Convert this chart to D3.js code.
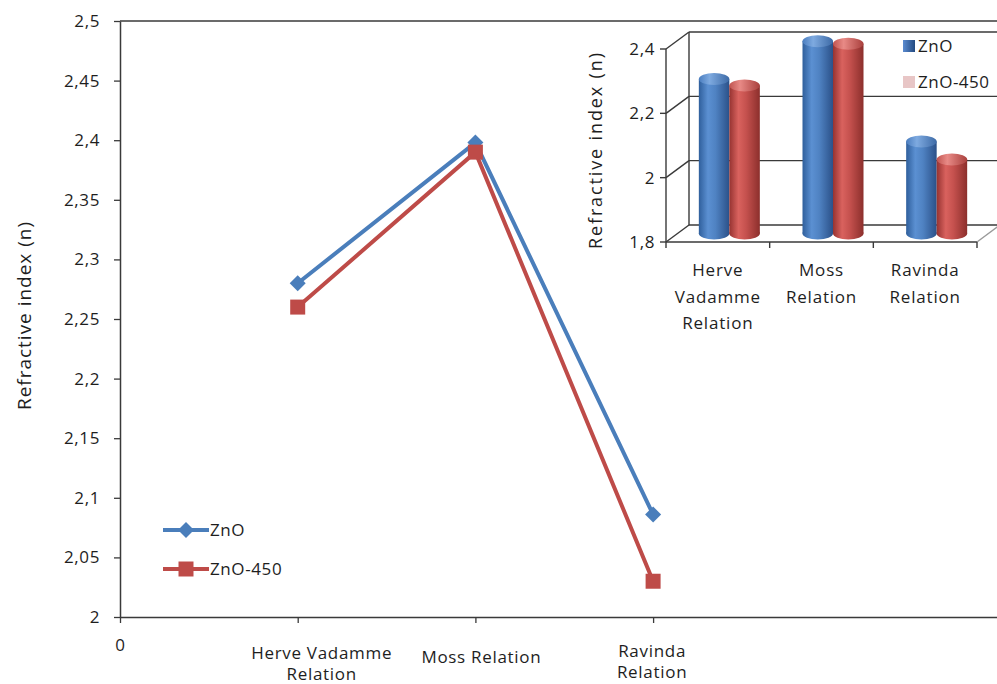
<!DOCTYPE html>
<html>
<head>
<meta charset="utf-8">
<script src="https://cdn.jsdelivr.net/npm/d3@7"></script>
<style>
  html, body { margin: 0; padding: 0; background: #fff; }
  svg { display: block; }
  text { font-family: "Open Sans", "Noto Sans", sans-serif; fill: #1e1e1e; }
</style>
</head>
<body>
<svg id="chart" width="997" height="684"></svg>
<script>
// ---------------- DATA ----------------
const categories = ["Herve Vadamme Relation", "Moss Relation", "Ravinda Relation"];
const xPositions = [1, 2, 3];
const mainLabelLines = [["Herve Vadamme", "Relation"], ["Moss Relation"], ["Ravinda", "Relation"]];
const insetLabelLines = [["Herve", "Vadamme", "Relation"], ["Moss", "Relation"], ["Ravinda", "Relation"]];
const seriesNames = ["ZnO", "ZnO-450"];
const znoValues = [2.28, 2.398, 2.086];
const zno450Values = [2.26, 2.39, 2.03];
const yTicks = [2, 2.05, 2.1, 2.15, 2.2, 2.25, 2.3, 2.35, 2.4, 2.45, 2.5];
const xTicks = [0, 1, 2, 3];
const insetTicks = [1.8, 2.0, 2.2, 2.4];
const yTitle = "Refractive index (n)";

// ---------------- SETUP ----------------
const svg = d3.select("#chart");
const W = 997, H = 684;
const BLUE = "#4a7ebb", RED = "#be4b48", AXIS = "#3a3a3a";
const locale = d3.formatLocale({decimal: ",", thousands: ".", grouping: [3], currency: ["", ""]});
const fmt2 = locale.format(".2~f");
const fmt1 = locale.format(".1~f");

svg.append("rect").attr("width", W).attr("height", H).attr("fill", "#fff");

const series = [
  {name: seriesNames[0], values: znoValues, color: BLUE, marker: "diamond"},
  {name: seriesNames[1], values: zno450Values, color: RED, marker: "square"}
];

// ---------------- MAIN CHART ----------------
const plot = {left: 120, top: 21, bottom: 617};
const y = d3.scaleLinear().domain([2, 2.5]).range([plot.bottom, plot.top]);
const x = d3.scaleLinear().domain([0, 5]).range([plot.left, plot.left + 5 * 177.7]);

// top border
svg.append("line").attr("x1", plot.left).attr("x2", W).attr("y1", plot.top).attr("y2", plot.top)
  .attr("stroke", AXIS).attr("stroke-width", 1.5);

// y axis
const yAxis = svg.append("g").attr("transform", `translate(${plot.left},0)`)
  .call(d3.axisLeft(y).tickValues(yTicks).tickSize(6).tickSizeOuter(0).tickPadding(14).tickFormat(fmt2));
yAxis.select(".domain").attr("stroke", AXIS).attr("stroke-width", 1.5);
yAxis.selectAll(".tick line").attr("stroke", AXIS).attr("stroke-width", 1.3);
yAxis.selectAll(".tick text").style("font-size", "17px").style("letter-spacing", "0.6px")
  .attr("fill", "#1e1e1e").style("font-family", '"Open Sans", sans-serif');

// x axis
const xAxis = svg.append("g").attr("transform", `translate(0,${plot.bottom})`)
  .call(d3.axisBottom(x).tickValues(xTicks).tickSize(6).tickSizeOuter(0).tickFormat(""));
xAxis.select(".domain").attr("stroke", AXIS).attr("stroke-width", 1.5);
xAxis.selectAll(".tick line").attr("stroke", AXIS).attr("stroke-width", 1.3);

svg.append("text").attr("x", x(0)).attr("y", 651).attr("text-anchor", "middle")
  .style("font-size", "17px").text(fmt2(xTicks[0]));

// category labels
const labelOffsetX = [24, 6, -1];
const labelBaseY = [659, 663, 657];
mainLabelLines.forEach((lines, i) => {
  const t = svg.append("text").attr("text-anchor", "middle")
    .style("font-size", "17px").style("letter-spacing", "0.7px");
  lines.forEach((ln, j) => {
    t.append("tspan").attr("x", x(xPositions[i]) + labelOffsetX[i])
      .attr("y", labelBaseY[i] + j * 21).text(ln);
  });
});

// y title
svg.append("text").attr("transform", "translate(31,316) rotate(-90)")
  .attr("text-anchor", "middle").style("font-size", "19px")
  .attr("textLength", 188).attr("lengthAdjust", "spacing").text(yTitle);

// lines + markers
const line = d3.line().x((d, i) => x(xPositions[i])).y(d => y(d));
const diamond = d3.symbol().type(d3.symbolSquare).size(128);
const square = d3.symbol().type(d3.symbolSquare).size(225);

series.forEach(s => {
  svg.append("path").datum(s.values).attr("d", line).attr("fill", "none")
    .attr("stroke", s.color).attr("stroke-width", 4).attr("stroke-linejoin", "round");
  svg.selectAll(null).data(s.values).enter().append("path")
    .attr("d", s.marker === "diamond" ? diamond : square)
    .attr("transform", (d, i) => `translate(${x(xPositions[i])},${y(d)})` + (s.marker === "diamond" ? " rotate(45)" : ""))
    .attr("fill", s.color);
});

// legend
const legendY = [530, 569];
series.forEach((s, i) => {
  const g = svg.append("g");
  g.append("line").attr("x1", 163).attr("x2", 209).attr("y1", legendY[i]).attr("y2", legendY[i])
    .attr("stroke", s.color).attr("stroke-width", 4);
  g.append("path").attr("d", s.marker === "diamond" ? diamond : square)
    .attr("transform", `translate(186,${legendY[i]})` + (s.marker === "diamond" ? " rotate(45)" : ""))
    .attr("fill", s.color);
  g.append("text").attr("x", 210).attr("y", legendY[i] + 6).style("font-size", "17px")
    .style("letter-spacing", "0.6px").text(s.name);
});

// ---------------- INSET 3D BAR CHART ----------------
const defs = svg.append("defs");
function grad(id, stops) {
  const g = defs.append("linearGradient").attr("id", id).attr("x1", "0").attr("x2", "1").attr("y1", "0").attr("y2", "0");
  stops.forEach(([o, c]) => g.append("stop").attr("offset", o).attr("stop-color", c));
}
grad("gBlue", [["0", "#2f5f9c"], ["0.3", "#5b90d2"], ["0.55", "#4f82c2"], ["1", "#2b5189"]]);
grad("gRed", [["0", "#963331"], ["0.3", "#d9625e"], ["0.55", "#c5514e"], ["1", "#8c2f2c"]]);
grad("gBlueTop", [["0", "#4a7dbf"], ["0.35", "#7eaae0"], ["1", "#3d6aa6"]]);
grad("gRedTop", [["0", "#c05450"], ["0.35", "#e88a86"], ["1", "#a9403d"]]);
grad("gLegBlue", [["0", "#5b8bd0"], ["1", "#234a80"]]);

const ins = {x0: 666, x1: 977, dx: 23, dy: -17};
const yi = d3.scaleLinear().domain([1.8, 2.4]).range([242, 49]);
const xi = d3.scaleBand().domain(categories).range([ins.x0, ins.x1]);
const ig = svg.append("g");
const ax = (sel) => sel.attr("stroke", AXIS).attr("stroke-width", 1.4);

// back wall gridlines & side lines
insetTicks.forEach(v => {
  ax(ig.append("line").attr("x1", ins.x0 + ins.dx).attr("x2", W + 5)
    .attr("y1", yi(v) + ins.dy).attr("y2", yi(v) + ins.dy));
  ax(ig.append("line").attr("x1", ins.x0).attr("x2", ins.x0 + ins.dx)
    .attr("y1", yi(v)).attr("y2", yi(v) + ins.dy));
  ax(ig.append("line").attr("x1", ins.x0 - 6).attr("x2", ins.x0).attr("y1", yi(v)).attr("y2", yi(v)));
  ig.append("text").attr("x", 655).attr("y", yi(v)).attr("dy", "0.36em").attr("text-anchor", "end")
    .style("font-size", "17px").style("letter-spacing", "0.6px").text(fmt1(v));
});
ax(ig.append("line").attr("x1", ins.x0 + ins.dx).attr("x2", ins.x0 + ins.dx)
  .attr("y1", yi(2.4) + ins.dy).attr("y2", yi(1.8) + ins.dy));
ax(ig.append("line").attr("x1", ins.x0).attr("x2", ins.x0).attr("y1", yi(2.4)).attr("y2", yi(1.8)));
// floor front + right edge
ax(ig.append("line").attr("x1", ins.x0).attr("x2", ins.x1).attr("y1", yi(1.8)).attr("y2", yi(1.8)));
ax(ig.append("line").attr("x1", ins.x1).attr("x2", ins.x1 + ins.dx).attr("y1", yi(1.8)).attr("y2", yi(1.8) + ins.dy))
  .attr("stroke", "#9a9a9a");
// x ticks
[ins.x0, ...categories.map(c => xi(c) + xi.bandwidth())].forEach(px => {
  ax(ig.append("line").attr("x1", px).attr("x2", px).attr("y1", yi(1.8)).attr("y2", yi(1.8) + 6));
});

// bars (cylinders)
const barW = 30.5, ry = 6;
categories.forEach((c, i) => {
  const cx = xi(c) + xi.bandwidth() / 2 + ins.dx / 2;
  series.forEach((s, k) => {
    const v = s.values[i];
    const left = cx - barW + k * barW;
    const top = yi(v) + ins.dy / 2;
    const bottom = yi(1.8) + ins.dy / 2;
    const body = k === 0 ? "url(#gBlue)" : "url(#gRed)";
    const cap = k === 0 ? "url(#gBlueTop)" : "url(#gRedTop)";
    ig.append("ellipse").attr("cx", left + barW / 2).attr("cy", bottom).attr("rx", barW / 2).attr("ry", ry).attr("fill", body);
    ig.append("rect").attr("x", left).attr("y", top).attr("width", barW).attr("height", bottom - top).attr("fill", body);
    ig.append("ellipse").attr("cx", left + barW / 2).attr("cy", top).attr("rx", barW / 2).attr("ry", ry).attr("fill", cap);
  });
});

// inset category labels
insetLabelLines.forEach((lines, i) => {
  const t = ig.append("text").attr("text-anchor", "middle").style("font-size", "17px").style("letter-spacing", "0.8px");
  lines.forEach((ln, j) => {
    t.append("tspan").attr("x", xi(categories[i]) + xi.bandwidth() / 2).attr("y", 276 + j * 26.5).text(ln);
  });
});

// inset y title
ig.append("text").attr("transform", "translate(602,151) rotate(-90)").attr("text-anchor", "middle")
  .style("font-size", "18px").attr("textLength", 196).attr("lengthAdjust", "spacing").text(yTitle);

// inset legend
const legFill = ["url(#gLegBlue)", "#e8c6c6"];
const legY = [46, 82];
series.forEach((s, i) => {
  ig.append("rect").attr("x", 903).attr("y", legY[i] - 6).attr("width", 12).attr("height", 12).attr("fill", legFill[i]);
  ig.append("text").attr("x", 918).attr("y", legY[i] + 6).style("font-size", "17px").style("letter-spacing", "0.5px").text(s.name);
});
</script>
</body>
</html>
